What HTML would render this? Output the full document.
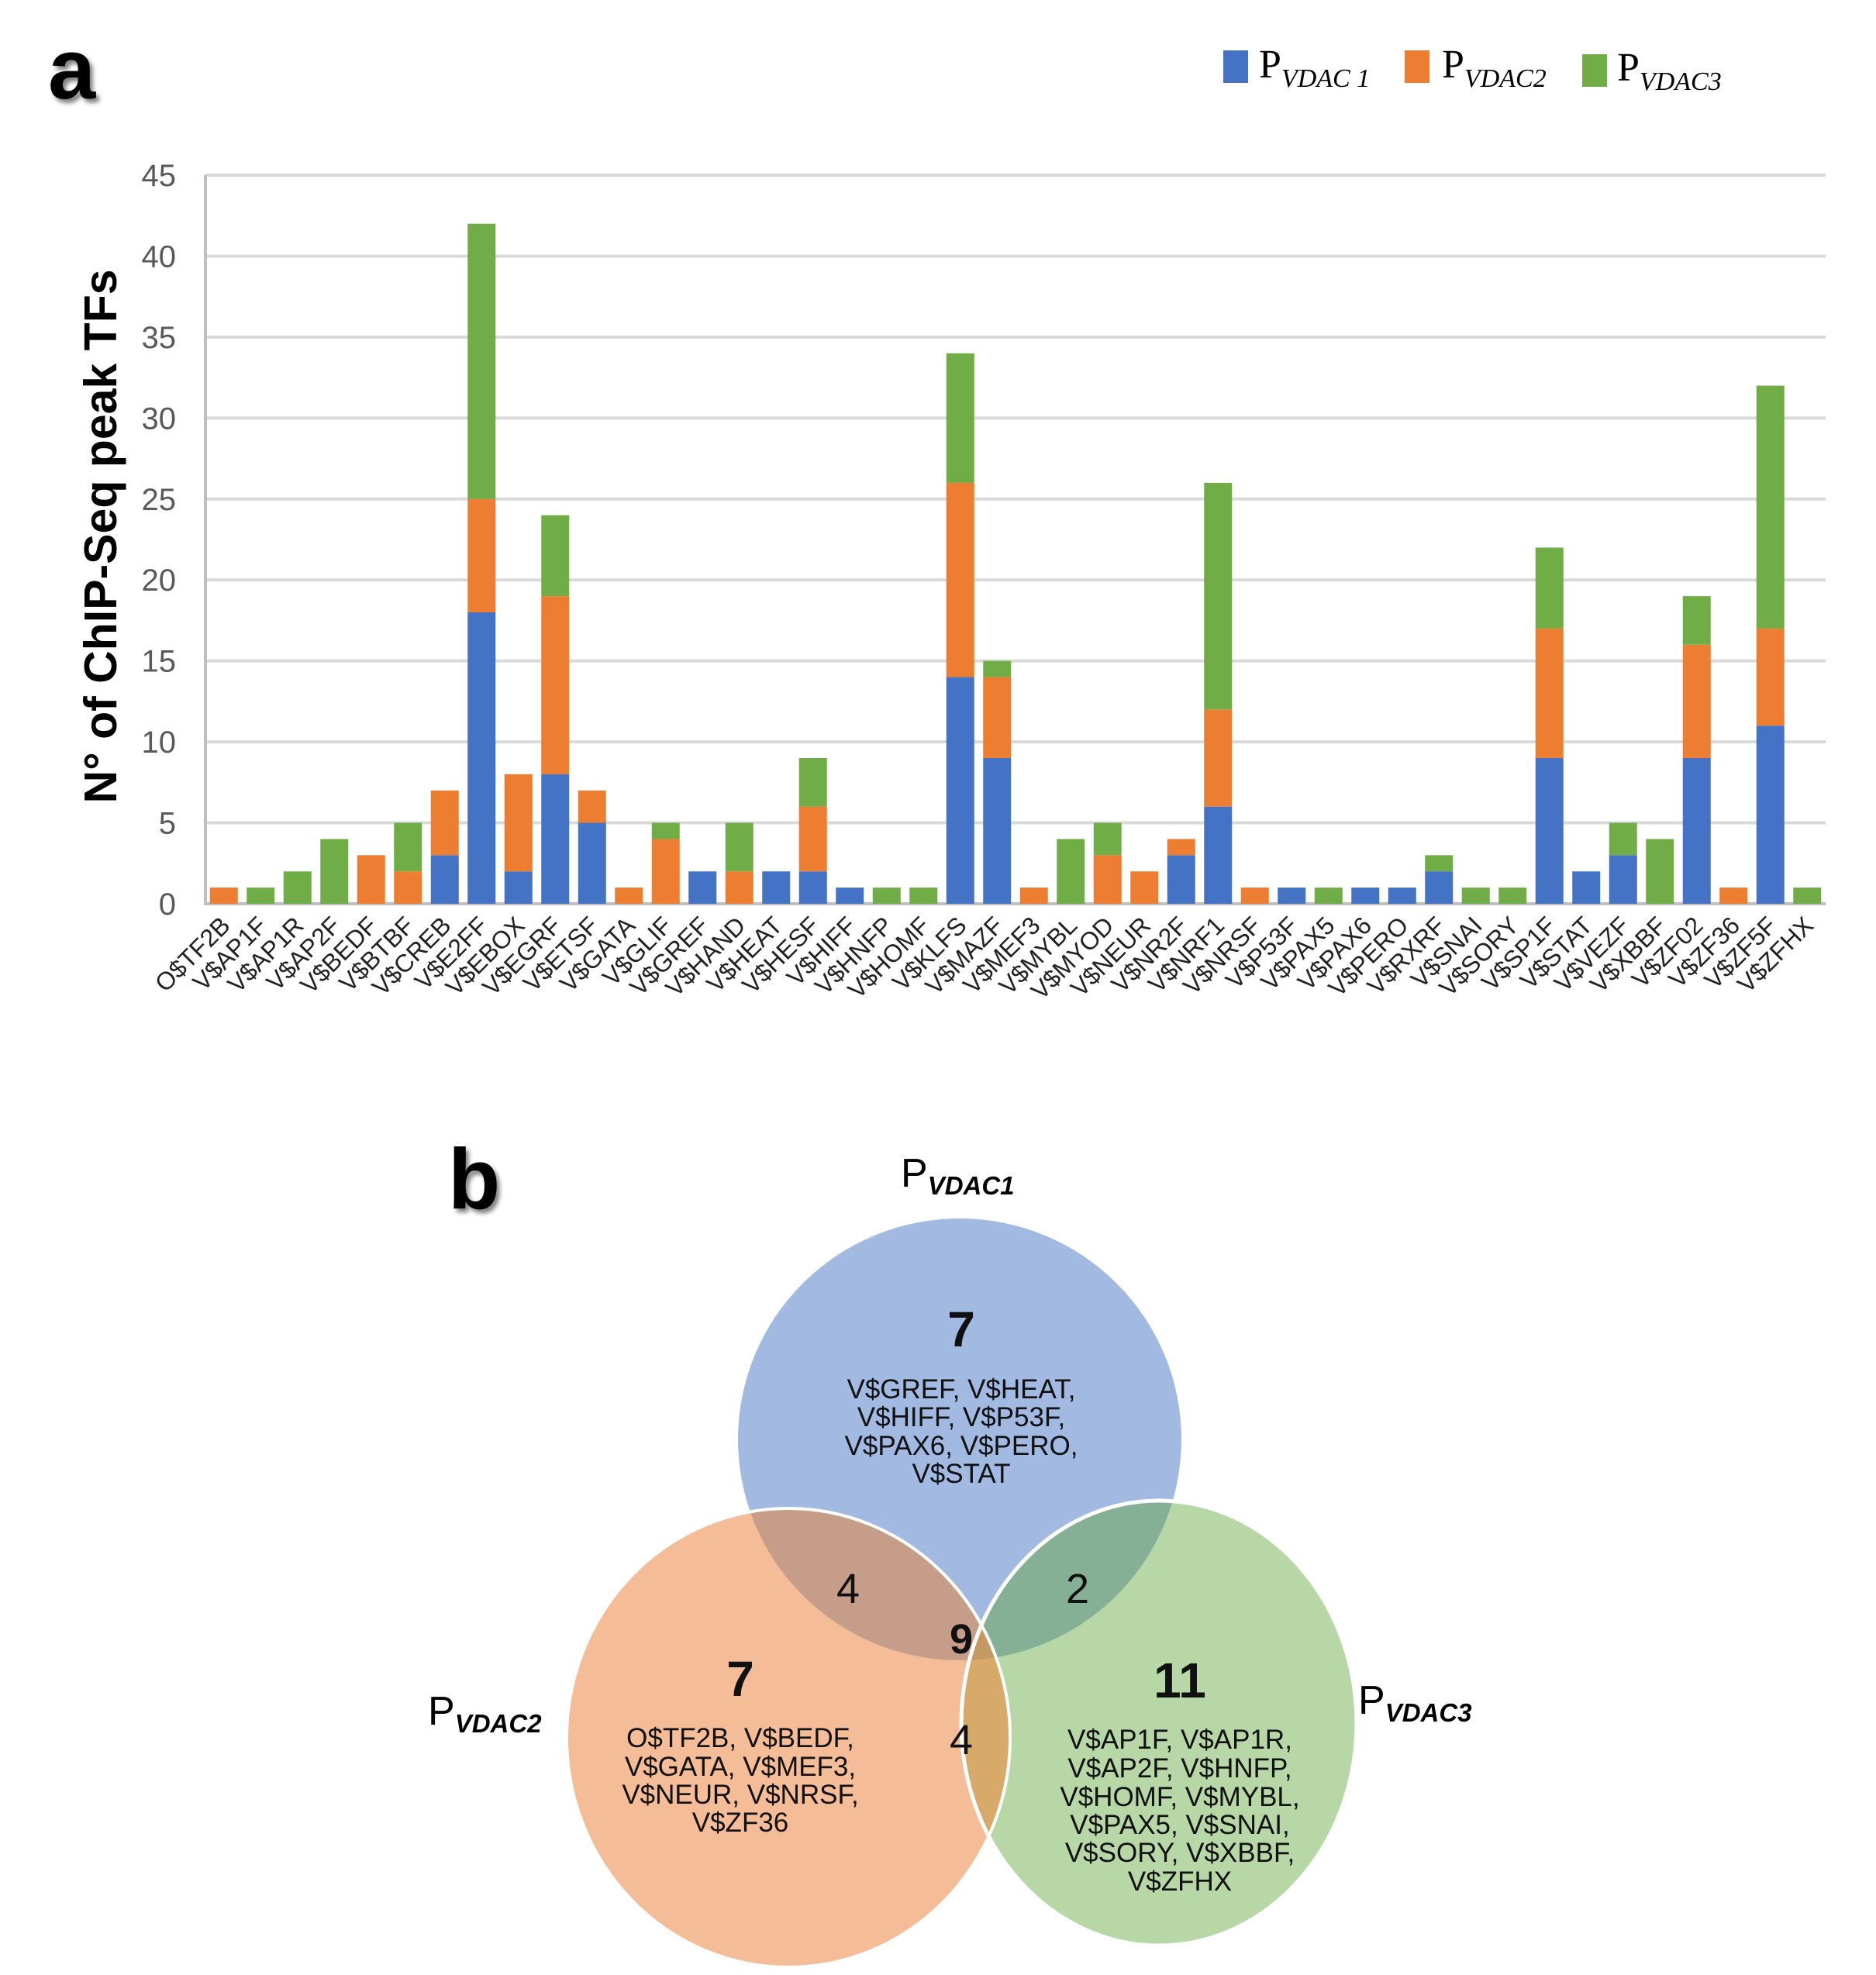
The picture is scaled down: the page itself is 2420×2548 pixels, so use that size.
<!DOCTYPE html>
<html><head><meta charset="utf-8"><style>
html,body{margin:0;padding:0;background:#fff;}
svg{display:block;}
</style></head><body>
<svg width="2420" height="2548" viewBox="0 0 2420 2548" xmlns="http://www.w3.org/2000/svg">
<defs>
<filter id="sh" x="-20%" y="-20%" width="160%" height="160%"><feGaussianBlur in="SourceAlpha" stdDeviation="3"/><feOffset dx="4" dy="5"/><feComponentTransfer><feFuncA type="linear" slope="0.5"/></feComponentTransfer><feMerge><feMergeNode/><feMergeNode in="SourceGraphic"/></feMerge></filter>
<clipPath id="cB"><ellipse cx="1238" cy="1857" rx="286" ry="285"/></clipPath>
<clipPath id="cO"><ellipse cx="1017" cy="2242" rx="286" ry="296"/></clipPath>
<clipPath id="cG"><ellipse cx="1495" cy="2223" rx="255" ry="287"/></clipPath>
</defs>
<text x="62" y="127" font-family="Liberation Sans, sans-serif" font-weight="bold" font-size="110" fill="#000" filter="url(#sh)">a</text>
<g id="legend" font-family="Liberation Serif, serif" fill="#000">
  <g><rect x="1578" y="65" width="32" height="42" fill="#4472c4"/><text x="1624" y="100" font-size="52">P<tspan font-size="34" font-style="italic" dy="12">VDAC 1</tspan></text></g>
  <g><rect x="1812" y="65" width="32" height="42" fill="#ed7d31"/><text x="1860" y="100" font-size="52">P<tspan font-size="34" font-style="italic" dy="12">VDAC2</tspan></text></g>
  <g><rect x="2041" y="70" width="32" height="42" fill="#70ad47"/><text x="2086" y="104" font-size="52">P<tspan font-size="34" font-style="italic" dy="12">VDAC3</tspan></text></g>
</g>
<g id="chart"></g>
<text transform="translate(150,692) rotate(-90)" text-anchor="middle" font-family="Liberation Sans, sans-serif" font-weight="bold" font-size="59" fill="#000">N° of ChIP-Seq peak TFs</text>

<text x="578" y="1559" font-family="Liberation Sans, sans-serif" font-weight="bold" font-size="110" fill="#000" filter="url(#sh)">b</text>
<g>
  <ellipse cx="1238" cy="1857" rx="286" ry="285" fill="#a2b9e2"/>
  <ellipse cx="1017" cy="2242" rx="286" ry="296" fill="#f4bd97"/>
  <ellipse cx="1495" cy="2223" rx="255" ry="287" fill="#b7d7a6"/>
  <g clip-path="url(#cB)"><ellipse cx="1017" cy="2242" rx="286" ry="296" fill="#c69d89"/></g>
  <g clip-path="url(#cB)"><ellipse cx="1495" cy="2223" rx="255" ry="287" fill="#86b095"/></g>
  <g clip-path="url(#cO)"><ellipse cx="1495" cy="2223" rx="255" ry="287" fill="#d8aa6a"/></g>
  <g clip-path="url(#cB)"><g clip-path="url(#cO)"><ellipse cx="1495" cy="2223" rx="255" ry="287" fill="#c49a62"/></g></g>
  <ellipse cx="1017" cy="2242" rx="286" ry="296" fill="none" stroke="#fff" stroke-width="4"/>
  <ellipse cx="1495" cy="2223" rx="255" ry="287" fill="none" stroke="#fff" stroke-width="5"/>
  <g font-family="Liberation Sans, sans-serif" fill="#111" text-anchor="middle">
    <text x="1240" y="1737" font-size="64" font-weight="bold">7</text>
    <g font-size="35">
      <text x="1240" y="1804">V$GREF, V$HEAT,</text><text x="1240" y="1840">V$HIFF, V$P53F,</text><text x="1240" y="1877">V$PAX6, V$PERO,</text><text x="1240" y="1913">V$STAT</text>
    </g>
    <text x="1094" y="2068" font-size="54">4</text>
    <text x="1390" y="2068" font-size="54">2</text>
    <text x="1240" y="2133" font-size="54" font-weight="bold">9</text>
    <text x="1240" y="2263" font-size="54">4</text>
    <text x="955" y="2188" font-size="64" font-weight="bold">7</text>
    <g font-size="35">
      <text x="955" y="2254">O$TF2B, V$BEDF,</text><text x="955" y="2291">V$GATA, V$MEF3,</text><text x="955" y="2327">V$NEUR, V$NRSF,</text><text x="955" y="2363">V$ZF36</text>
    </g>
    <text x="1522" y="2190" font-size="64" font-weight="bold">11</text>
    <g font-size="35">
      <text x="1522" y="2256">V$AP1F, V$AP1R,</text><text x="1522" y="2293">V$AP2F, V$HNFP,</text><text x="1522" y="2330">V$HOMF, V$MYBL,</text><text x="1522" y="2366">V$PAX5, V$SNAI,</text><text x="1522" y="2402">V$SORY, V$XBBF,</text><text x="1522" y="2439">V$ZFHX</text>
    </g>
  </g>
  <g font-family="Liberation Sans, sans-serif" fill="#000">
    <text x="1162" y="1531" font-size="52">P<tspan font-size="33" font-weight="bold" font-style="italic" dy="10">VDAC1</tspan></text>
    <text x="552" y="2225" font-size="52">P<tspan font-size="33" font-weight="bold" font-style="italic" dy="10">VDAC2</tspan></text>
    <text x="1752" y="2211" font-size="52">P<tspan font-size="33" font-weight="bold" font-style="italic" dy="10">VDAC3</tspan></text>
  </g>
</g>
</svg>
<script>
const categories = ["O$TF2B","V$AP1F","V$AP1R","V$AP2F","V$BEDF","V$BTBF","V$CREB","V$E2FF","V$EBOX","V$EGRF","V$ETSF","V$GATA","V$GLIF","V$GREF","V$HAND","V$HEAT","V$HESF","V$HIFF","V$HNFP","V$HOMF","V$KLFS","V$MAZF","V$MEF3","V$MYBL","V$MYOD","V$NEUR","V$NR2F","V$NRF1","V$NRSF","V$P53F","V$PAX5","V$PAX6","V$PERO","V$RXRF","V$SNAI","V$SORY","V$SP1F","V$STAT","V$VEZF","V$XBBF","V$ZF02","V$ZF36","V$ZF5F","V$ZFHX"];
const vdac1 = [0,0,0,0,0,0,3,18,2,8,5,0,0,2,0,2,2,1,0,0,14,9,0,0,0,0,3,6,0,1,0,1,1,2,0,0,9,2,3,0,9,0,11,0];
const vdac2 = [1,0,0,0,3,2,4,7,6,11,2,1,4,0,2,0,4,0,0,0,12,5,1,0,3,2,1,6,1,0,0,0,0,0,0,0,8,0,0,0,7,1,6,0];
const vdac3 = [0,1,2,4,0,3,0,17,0,5,0,0,1,0,3,0,3,0,1,1,8,1,0,4,2,0,0,14,0,0,1,0,0,1,1,1,5,0,2,4,3,0,15,1];
const yTicks = [0,5,10,15,20,25,30,35,40,45];
const NS='http://www.w3.org/2000/svg';
const g=document.getElementById('chart');
const X0=265, X1=2355, Y0=1166, Y45=226, YMAX=45;
const step=(X1-X0)/categories.length;
function xc(i){return X0+step*(i+0.5);}
function ys(v){return Y0-(Y0-Y45)*v/YMAX;}
function mk(t,a){const e=document.createElementNS(NS,t);for(const k in a)e.setAttribute(k,a[k]);g.appendChild(e);return e;}
yTicks.forEach(v=>{
  const l=mk('line',{x1:X0,x2:X1,y1:ys(v),y2:ys(v),stroke:'#d9d9d9','stroke-width':4});
  
  
  const t=mk('text',{x:227,y:ys(v)+14,'text-anchor':'end','font-family':'Liberation Sans, sans-serif','font-size':40,fill:'#595959'});
  t.textContent=v;
  
  
});
const ax=mk('line',{x1:X0,x2:X0,y1:Y45,y2:Y0+2,stroke:'#bfbfbf','stroke-width':4});


const bx=mk('line',{x1:X0,x2:X1,y1:Y0,y2:Y0,stroke:'#bfbfbf','stroke-width':4});


const series=[[vdac1,'#4472c4','vdac1'],[vdac2,'#ed7d31','vdac2'],[vdac3,'#70ad47','vdac3']];
const BW=36;
categories.forEach((c,i)=>{
  let base=0;
  series.forEach(([arr,col,nm])=>{
    const v=arr[i];
    if(v>0){
      const r=mk('rect',{x:xc(i)-BW/2,y:ys(base+v),width:BW,height:ys(base)-ys(base+v),fill:col});
      
      
    }
    base+=v;
  });
  const tx=xc(i)+10, ty=1196;
  const t=mk('text',{x:tx,y:ty,transform:`rotate(-45 ${tx} ${ty})`,'text-anchor':'end','font-family':'Liberation Sans, sans-serif','font-size':32,fill:'#222'});
  t.textContent=c;
  
  
});
</script>
</body></html>
